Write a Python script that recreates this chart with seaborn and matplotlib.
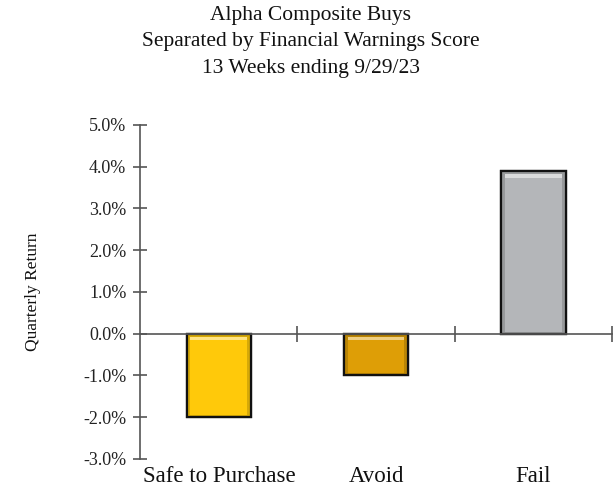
import matplotlib
matplotlib.use('Agg')
import matplotlib.pyplot as plt
import matplotlib.colors as mcolors
import seaborn as sns
from matplotlib.ticker import FuncFormatter
from matplotlib.patches import Rectangle

# data
categories = ['Safe to Purchase', 'Avoid', 'Fail']
returns = [-2.0, -1.0, 3.9]
bar_colors = ['#FFC90A', '#DE9E06', '#B4B6B9']
title_lines = ['Alpha Composite Buys',
               'Separated by Financial Warnings Score',
               '13 Weeks ending 9/29/23']

sns.set_style('white')
plt.rcParams['font.family'] = ['Liberation Serif', 'DejaVu Serif']

fig = plt.figure(figsize=(6.15, 4.96), dpi=100)
ax = fig.add_axes([0.228, 0.075, 0.767, 0.673])

sns.barplot(x=categories, y=returns, hue=categories, palette=bar_colors,
            width=0.41, edgecolor='#111111', linewidth=1.6, ax=ax,
            legend=False, saturation=1)

# soft bevel inside each bar
for p, c in zip(ax.patches, bar_colors):
    x0, w = p.get_x(), p.get_width()
    bot = min(p.get_y(), p.get_y() + p.get_height())
    top = max(p.get_y(), p.get_y() + p.get_height())
    dx = w * 0.06
    rgb = mcolors.to_rgb(c)
    shade = [v * 0.84 for v in rgb]
    light = [min(1, v * 0.5 + 0.5) for v in rgb]
    ax.add_patch(Rectangle((x0, bot), w, top - bot, facecolor=shade,
                           edgecolor='none', zorder=2.1))
    ax.add_patch(Rectangle((x0 + dx, bot + 0.05), w - 2 * dx, top - bot - 0.2,
                           facecolor=c, edgecolor='none', zorder=2.3))
    ax.add_patch(Rectangle((x0 + dx, top - 0.16), w - 2 * dx, 0.09,
                           facecolor=light, edgecolor='none', zorder=2.35))
    ax.add_patch(Rectangle((x0, bot), w, top - bot, facecolor='none',
                           edgecolor='#111111', linewidth=1.6, zorder=2.4))

ax.set_xlim(-0.5, 2.5)
ax.set_ylim(-3, 5)
ax.set_yticks([-3, -2, -1, 0, 1, 2, 3, 4, 5])
ax.yaxis.set_major_formatter(FuncFormatter(lambda v, p: f'{v:.1f}%'))
ax.tick_params(axis='y', left=True, direction='inout', length=10, width=1.2,
               color='#555555', labelsize=13, pad=5, labelcolor='#222222')

# x axis line sits on zero, with tick marks between categories
for s in ['top', 'right']:
    ax.spines[s].set_visible(False)
ax.spines['left'].set_color('#555555')
ax.spines['left'].set_linewidth(1.2)
ax.spines['bottom'].set_position(('data', 0))
ax.spines['bottom'].set_color('#555555')
ax.spines['bottom'].set_linewidth(1.2)
ax.set_xticks([0.5, 1.5, 2.5])
ax.set_xticklabels([])
ax.tick_params(axis='x', bottom=True, direction='inout', length=12, width=1.2,
               color='#555555')

# category names along the bottom
sec = ax.secondary_xaxis('bottom')
sec.set_xticks(range(len(categories)))
sec.set_xticklabels(categories, fontsize=16.5, color='#111111')
sec.tick_params(length=0, pad=5)
sec.spines['bottom'].set_visible(False)

ax.set_ylabel('Quarterly Return', fontsize=12.5, labelpad=30, color='#111111')
ax.set_xlabel('')

fig.text(0.505, 0.988, '\n'.join(title_lines), ha='center', va='top',
         fontsize=15.5, linespacing=1.52, color='#111111')

fig.savefig('out.png', dpi=100)
